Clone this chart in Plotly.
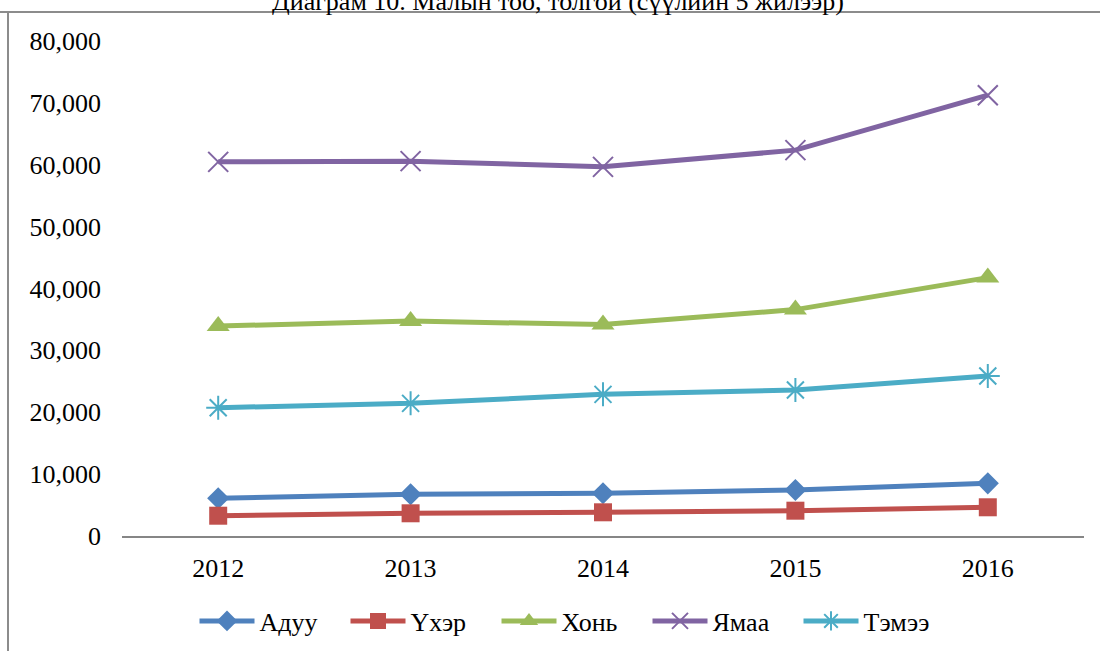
import plotly.graph_objects as go

# Livestock headcount by year
years = ["2012", "2013", "2014", "2015", "2016"]
aduu = [6090, 6740, 6900, 7430, 8510]
uher = [3280, 3670, 3830, 4090, 4640]
hon = [33930, 34730, 34170, 36590, 41760]
yamaa = [60470, 60580, 59660, 62360, 71240]
temee = [20730, 21440, 22890, 23590, 25850]

series_names = ["Адуу", "Үхэр", "Хонь", "Ямаа", "Тэмээ"]
y_ticks = [0, 10000, 20000, 30000, 40000, 50000, 60000, 70000, 80000]

W, H = 1100, 651
L, R, T, B = 122, 16, 41, 115
plot_w = W - L - R
plot_h = H - T - B

FONT = "Times New Roman, Liberation Serif, serif"

styles = [
    dict(color="#4F81BD", symbol="diamond", size=17, lw=0),
    dict(color="#C0504D", symbol="square", size=18, lw=0),
    dict(color="#9BBB59", symbol="triangle-up", size=20, lw=0),
    dict(color="#8064A2", symbol="x-thin-open", size=20, lw=2),
    dict(color="#4BACC6", symbol="asterisk-open", size=20, lw=2),
]

fig = go.Figure()
for name, vals, st in zip(series_names, [aduu, uher, hon, yamaa, temee], styles):
    fig.add_trace(go.Scatter(
        x=years, y=vals, name=name, mode="lines+markers",
        line=dict(color=st["color"], width=5),
        marker=dict(symbol=st["symbol"], size=st["size"], color=st["color"],
                    line=dict(color=st["color"], width=st["lw"])),
    ))


def px_x(px):
    return (px - L) / plot_w


def px_y(py):
    return (H - B - py) / plot_h


border = "#8C8C8C"
shapes = [
    dict(type="line", xref="paper", yref="paper", layer="below",
         x0=px_x(0), x1=px_x(W), y0=px_y(12), y1=px_y(12),
         line=dict(color=border, width=2)),
    dict(type="line", xref="paper", yref="paper", layer="below",
         x0=px_x(8), x1=px_x(8), y0=px_y(12), y1=px_y(H + 2),
         line=dict(color=border, width=2)),
]

title_text = "Диаграм 10. Малын тоо, толгой (сүүлийн 5 жилээр)"

fig.update_layout(
    width=W, height=H,
    margin=dict(l=L, r=R, t=T, b=B),
    paper_bgcolor="white", plot_bgcolor="rgba(0,0,0,0)",
    font=dict(family=FONT, size=26, color="black"),
    xaxis=dict(type="category", range=[-0.5, 4.5], showgrid=False,
               zeroline=False, showline=True, linecolor="#868686",
               linewidth=2, ticks="", tickfont=dict(size=26),
               ticklabelstandoff=8),
    yaxis=dict(range=[0, 80000], tickvals=y_ticks, tickformat=",",
               showgrid=False, zeroline=False, showline=False, ticks="",
               tickfont=dict(size=26), ticklabelstandoff=20),
    legend=dict(orientation="h", xref="container", yref="container",
                x=572 / W, y=(H - 621) / H, xanchor="center", yanchor="middle",
                font=dict(size=26), itemwidth=55,
                entrywidth=81, entrywidthmode="pixels"),
    shapes=shapes,
    annotations=[dict(text=title_text, xref="paper", yref="paper",
                      x=px_x(558), y=px_y(2), xanchor="center", yanchor="middle",
                      showarrow=False,
                      font=dict(family=FONT, size=26, color="black"))],
    showlegend=True,
)

fig.write_html("out.html")
